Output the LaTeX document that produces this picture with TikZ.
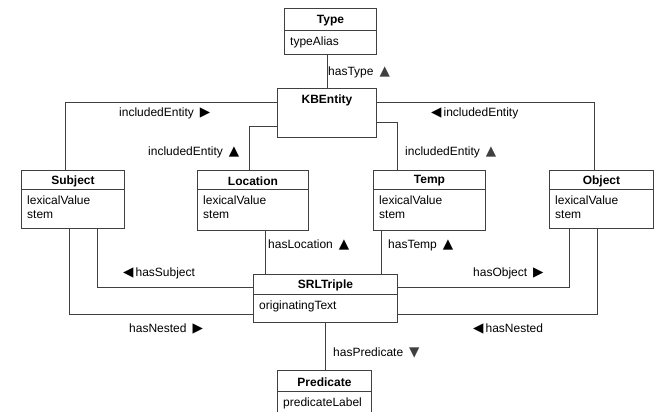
\documentclass[tikz,border=0pt]{standalone}
\usepackage{fontspec}
\setmainfont{Liberation Sans}
\newfontfamily\trifont{DejaVu Sans}
\usetikzlibrary{calc}
\def\tup{{\trifont\fontsize{13.5}{14}\selectfont ▲}}
\def\tdown{{\trifont\fontsize{13.5}{14}\selectfont ▼}}
\def\tright{{\trifont\fontsize{13.5}{14}\selectfont ▶}}
\def\tleft{{\trifont\fontsize{13.5}{14}\selectfont ◀}}
% name, x, y, width, height, header height, title, attributes
\def\umlclass#1#2#3#4#5#6#7#8{%
  \node[classbox, minimum width=#4, minimum height=#5] (#1) at (#2,#3) {};
  \draw[assoc] ($(#1.north west)+(0,#6)$) -- ($(#1.north east)+(0,#6)$);
  \node[classtitle] (#1T) at ($(#1.north)+(0,#6/2+1.5)$) {#7};
  \node[classbody] (#1B) at ($(#1.north west)+(6,#6+7)$) {#8};}

\begin{document}
\begin{tikzpicture}[x=1pt,y=-1pt,
    every node/.style={font=\fontsize{12}{14}\selectfont},
    classbox/.style={draw=black!75, line width=0.9pt, anchor=north west, inner sep=0pt},
    classtitle/.style={font=\fontsize{12}{14}\selectfont\bfseries, inner sep=0pt},
    classbody/.style={anchor=north west, align=left, inner sep=0pt},
    assoc/.style={draw=black!75, line width=0.9pt},
    lbl/.style={anchor=west, inner sep=0pt}]
\useasboundingbox (0,0) rectangle (656,412);

% classes
\umlclass{type}{284}{8}{92}{46}{22}{Type}{typeAlias}
\node[classbox, minimum width=99, minimum height=49] (kb) at (277,88) {};
\node[classtitle] (kbT) at ($(kb.north)+(0,12)$) {KBEntity};
\umlclass{subj}{21}{170}{103}{58}{19}{Subject}{lexicalValue\\stem}
\umlclass{loc}{197}{170}{111}{60}{19}{Location}{lexicalValue\\stem}
\umlclass{temp}{373}{170}{112}{60}{19}{Temp}{lexicalValue\\stem}
\umlclass{obj}{549}{170}{104}{58}{19}{Object}{lexicalValue\\stem}
\umlclass{srl}{253}{274}{144}{48}{20}{SRLTriple}{originatingText}
\umlclass{pred}{277}{370}{94}{42}{21}{Predicate}{predicateLabel}

% end points
\coordinate (kbL1) at ($(kb.north west)+(0,14)$);
\coordinate (kbL2) at ($(kb.north west)+(0,38)$);
\coordinate (kbR1) at ($(kb.north east)+(0,14)$);
\coordinate (kbR2) at ($(kb.north east)+(0,34)$);
\coordinate (subjN) at ($(subj.north)+(-8,0)$);
\coordinate (locN) at ($(loc.north)+(-4,0)$);
\coordinate (tempN) at ($(temp.north)+(-32,0)$);
\coordinate (objN) at ($(obj.north)+(-7,0)$);
\coordinate (subjS1) at ($(subj.south)+(24,0)$);
\coordinate (subjS2) at ($(subj.south)+(-4,0)$);
\coordinate (objS1) at ($(obj.south)+(-32,0)$);
\coordinate (objS2) at ($(obj.south)+(-4,0)$);
\coordinate (locS) at ($(loc.south)+(12,0)$);
\coordinate (tempS) at ($(temp.south)+(-48,0)$);
\coordinate (srlL1) at ($(srl.north west)+(0,13)$);
\coordinate (srlL2) at ($(srl.north west)+(0,40)$);
\coordinate (srlR1) at ($(srl.north east)+(0,13)$);
\coordinate (srlR2) at ($(srl.north east)+(0,40)$);

% associations
\draw[assoc] (kb.north) -- (kb.north |- type.south);
\draw[assoc] (kbL1) -| (subjN);
\draw[assoc] (kbL2) -| (locN);
\draw[assoc] (kbR1) -| (objN);
\draw[assoc] (kbR2) -| (tempN);
\draw[assoc] (subjS1) |- (srlL1);
\draw[assoc] (subjS2) |- (srlL2);
\draw[assoc] (objS1) |- (srlR1);
\draw[assoc] (objS2) |- (srlR2);
\draw[assoc] (locS) -- (locS |- srl.north);
\draw[assoc] (tempS) -- (tempS |- srl.north);
\draw[assoc] (srl.south) -- (srl.south |- pred.north);

% role names
\node[lbl] (lType) at (328,72) {hasType\hspace{6pt}{\color{black!75}\tup}};
\node[lbl] (lIncSubj) at (119,113) {includedEntity\hspace{6pt}\tright};
\node[lbl] (lIncLoc) at (148,152) {includedEntity\hspace{6pt}\tup};
\node[lbl] (lIncObj) at (431,113) {\tleft\hspace{2pt}includedEntity};
\node[lbl] (lIncTemp) at (405,152) {includedEntity\hspace{6pt}{\color{black!75}\tup}};
\node[lbl] (lLoc) at (268,245) {hasLocation\hspace{6pt}\tup};
\node[lbl] (lTemp) at (388,245) {hasTemp\hspace{6pt}\tup};
\node[lbl] (lSubj) at (123,273) {\tleft\hspace{2pt}hasSubject};
\node[lbl] (lObj) at (473,273) {hasObject\hspace{6pt}\tright};
\node[lbl] (lNestL) at (129,329) {hasNested\hspace{6pt}\tright};
\node[lbl] (lNestR) at (473,329) {\tleft\hspace{2pt}hasNested};
\node[lbl] (lPred) at (333,353) {hasPredicate\hspace{6pt}{\color{black!75}\tdown}};
\end{tikzpicture}
\end{document}
